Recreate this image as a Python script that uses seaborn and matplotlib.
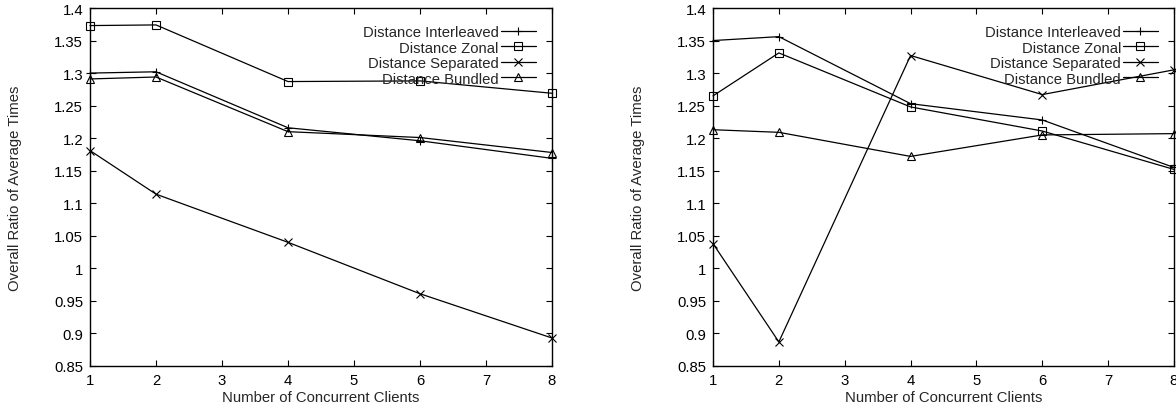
import pandas as pd
import matplotlib
matplotlib.use("Agg")
import matplotlib.pyplot as plt
import seaborn as sns

clients = [1, 2, 4, 6, 8]
series_names = ["Distance Interleaved", "Distance Zonal", "Distance Separated", "Distance Bundled"]
series_markers = ["+", "s", "x", "^"]

# left panel
left_interleaved = [1.300, 1.302, 1.216, 1.196, 1.169]
left_zonal = [1.373, 1.374, 1.287, 1.288, 1.269]
left_separated = [1.181, 1.114, 1.040, 0.961, 0.893]
left_bundled = [1.291, 1.294, 1.210, 1.201, 1.178]

# right panel
right_interleaved = [1.350, 1.356, 1.253, 1.228, 1.155]
right_zonal = [1.265, 1.331, 1.248, 1.211, 1.152]
right_separated = [1.038, 0.887, 1.327, 1.267, 1.305]
right_bundled = [1.213, 1.209, 1.172, 1.205, 1.207]

y_ticks = [0.85, 0.9, 0.95, 1, 1.05, 1.1, 1.15, 1.2, 1.25, 1.3, 1.35, 1.4]
y_tick_labels = ["0.85", "0.9", "0.95", "1", "1.05", "1.1", "1.15", "1.2", "1.25", "1.3", "1.35", "1.4"]
x_ticks = [1, 2, 3, 4, 5, 6, 7, 8]

FS = 10.7

sns.set_style("ticks")
plt.rcParams['font.family'] = ['Liberation Sans', 'DejaVu Sans']
plt.rcParams['font.size'] = FS
plt.rcParams['xtick.direction'] = 'in'
plt.rcParams['ytick.direction'] = 'in'
plt.rcParams['xtick.top'] = True
plt.rcParams['ytick.right'] = True
plt.rcParams['xtick.major.size'] = 4.5
plt.rcParams['ytick.major.size'] = 4.5
plt.rcParams['xtick.major.width'] = 0.8
plt.rcParams['ytick.major.width'] = 0.8
plt.rcParams['axes.linewidth'] = 1.0
plt.rcParams['axes.edgecolor'] = 'black'
plt.rcParams['xtick.color'] = 'black'
plt.rcParams['ytick.color'] = 'black'


def make_frame(values):
    rows = []
    for name, vals in zip(series_names, values):
        for c, v in zip(clients, vals):
            rows.append({"clients": c, "ratio": v, "series": name})
    return pd.DataFrame(rows)


def draw_panel(ax, df):
    for name, m in zip(series_names, series_markers):
        sub = df[df["series"] == name]
        sns.lineplot(data=sub, x="clients", y="ratio", ax=ax, color="black",
                     marker=m, markersize=6, markeredgewidth=0.8,
                     markerfacecolor="none", markeredgecolor="black",
                     linewidth=0.9, label=name)
    ax.set_xlim(1, 8)
    ax.set_ylim(0.85, 1.4)
    ax.set_xticks(x_ticks)
    ax.set_yticks(y_ticks)
    ax.set_yticklabels(y_tick_labels)
    ax.tick_params(axis='both', labelsize=FS, pad=5)
    ax.set_xlabel("Number of Concurrent Clients", fontsize=FS)
    ax.set_ylabel("Overall Ratio of Average Times", fontsize=FS)
    ax.xaxis.set_label_coords(0.5, -0.087)
    ax.xaxis.label.set_verticalalignment('center')
    ax.yaxis.set_label_coords(-0.162, 0.5)
    ax.yaxis.label.set_verticalalignment('center')
    handles, labels = ax.get_legend_handles_labels()
    ax.legend(handles, labels, loc='upper right', bbox_to_anchor=(0.966, 0.952),
              frameon=False, markerfirst=False, fontsize=FS, handlelength=2.4,
              handletextpad=0.12, labelspacing=0.1, borderpad=0, borderaxespad=0)
    for sp in ax.spines.values():
        sp.set_visible(True)


fig = plt.figure(figsize=(11.76, 4.10), dpi=100)
ax_left = fig.add_axes([90 / 1176, 43 / 410, 462 / 1176, 358 / 410])
ax_right = fig.add_axes([713 / 1176, 43 / 410, 461 / 1176, 358 / 410])

draw_panel(ax_left, make_frame([left_interleaved, left_zonal, left_separated, left_bundled]))
draw_panel(ax_right, make_frame([right_interleaved, right_zonal, right_separated, right_bundled]))

for ln in ax_left.lines + ax_right.lines:
    ln.set_clip_on(False)

fig.savefig("out.png", dpi=100)
